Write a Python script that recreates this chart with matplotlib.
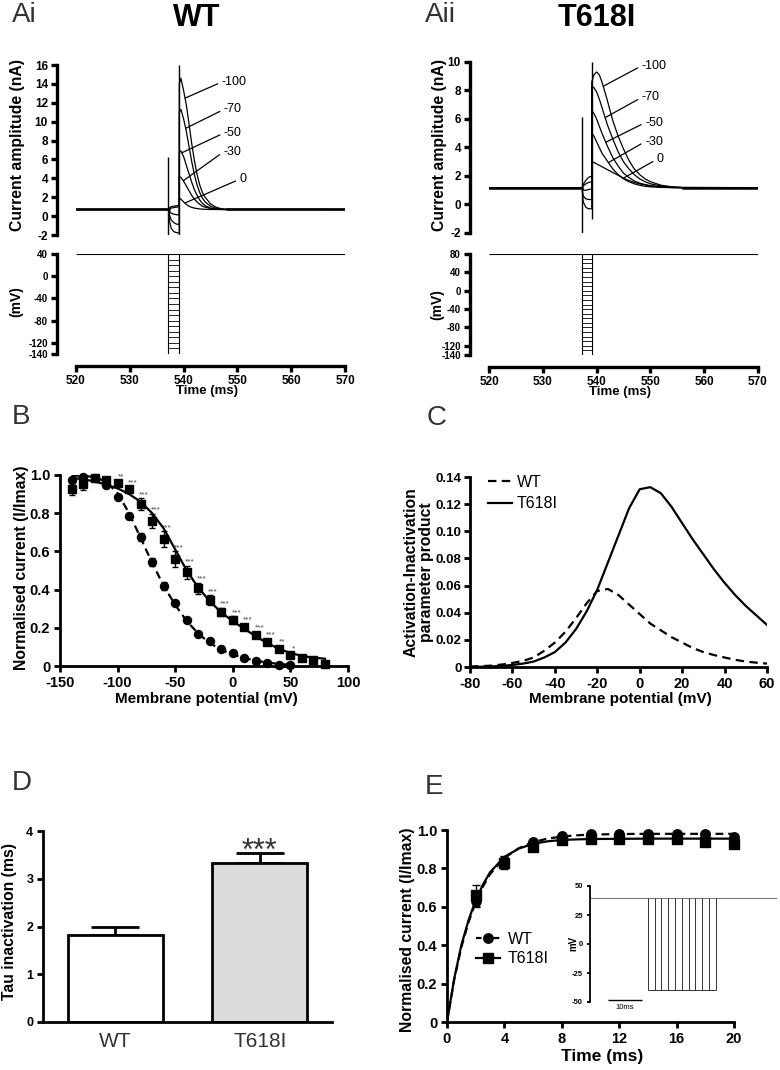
import matplotlib
matplotlib.use('Agg')
import matplotlib.pyplot as plt
from matplotlib.ticker import FuncFormatter
from matplotlib.lines import Line2D

plt.rcParams['font.family'] = ['Liberation Sans', 'DejaVu Sans']
plt.rcParams['font.weight'] = 'bold'
plt.rcParams['axes.unicode_minus'] = False

# ---------------- data ----------------
trace_names = ['-100', '-70', '-50', '-30', '0']

# Ai  WT current traces (nA)
wt_base = 0.7
wt_art_t = [537.16, 539.2]
wt_art_lo = [-2.0, -2.0]
wt_art_hi = [6.3, 16.0]
wt_pre_t = [537.2, 537.4, 537.7, 538.2, 538.7, 539.2]
wt_pre = [[0.7, -0.6, -1.3, -1.65, -1.75, -1.8],
          [0.7, 0.1, -0.4, -0.7, -0.85, -0.9],
          [0.7, 0.5, 0.3, 0.2, 0.15, 0.1],
          [0.7, 0.8, 0.85, 0.9, 0.95, 1.0],
          [0.7, 0.9, 1.0, 1.05, 1.1, 1.1]]
wt_post_t = [539.2, 539.5, 540.0, 540.5, 541.0, 541.5, 542.0, 542.5, 543.0, 543.5, 544.0, 545.0, 546.0, 547.0, 548.0]
wt_post = [[14.0, 14.6, 13.3, 11.8, 9.8, 7.7, 5.9, 4.4, 3.3, 2.5, 2.0, 1.3, 0.95, 0.78, 0.72],
           [11.0, 11.3, 10.3, 9.0, 7.4, 5.8, 4.4, 3.3, 2.5, 1.9, 1.5, 1.05, 0.82, 0.73, 0.7],
           [6.8, 6.9, 6.3, 5.4, 4.5, 3.6, 2.8, 2.2, 1.7, 1.35, 1.1, 0.85, 0.75, 0.71, 0.7],
           [4.2, 4.1, 3.7, 3.2, 2.7, 2.2, 1.8, 1.5, 1.25, 1.05, 0.95, 0.8, 0.73, 0.7, 0.7],
           [1.9, 1.8, 1.5, 1.25, 1.05, 0.93, 0.85, 0.8, 0.76, 0.74, 0.72, 0.7, 0.7, 0.7, 0.7]]
wt_lab_xy = [(540.3, 12.5), (540.4, 9.3), (539.65, 6.7), (539.95, 3.75), (540.3, 1.4)]
wt_lab_txt = [(547.1, 14.2), (547.5, 11.3), (547.5, 8.8), (547.4, 6.8), (550.4, 3.9)]
wt_steps = [-140, -130, -120, -110, -100, -90, -80, -70, -60, -50, -40, -30, -20, -10, 0, 10, 20, 30, 40]
wt_hold = 40

# Aii  T618I current traces (nA)
mut_base = 1.18
mut_art_t = [537.25, 539.15]
mut_art_lo = [-2.0, -1.0]
mut_art_hi = [6.15, 10.0]
mut_pre_t = [537.3, 537.5, 538.0, 538.5, 539.1]
mut_pre = [[1.18, 0.2, -0.2, -0.3, -0.3],
           [1.18, 0.6, 0.4, 0.35, 0.35],
           [1.18, 1.0, 1.0, 1.05, 1.1],
           [1.18, 1.3, 1.45, 1.55, 1.6],
           [1.18, 1.4, 1.7, 1.9, 2.0]]
mut_post_t = [539.1, 539.5, 540.0, 540.5, 541.0, 542.0, 543.0, 544.0, 545.0, 546.0, 547.0, 548.0, 549.0, 550.0, 552.0, 554.0, 556.0]
mut_post = [[8.6, 9.1, 9.3, 9.1, 8.6, 7.3, 5.9, 4.8, 3.9, 3.1, 2.5, 2.1, 1.8, 1.6, 1.35, 1.24, 1.2],
            [8.3, 8.2, 7.9, 7.4, 6.8, 5.6, 4.6, 3.7, 3.0, 2.5, 2.1, 1.8, 1.6, 1.45, 1.3, 1.22, 1.19],
            [6.6, 6.4, 6.0, 5.5, 5.0, 4.1, 3.3, 2.7, 2.2, 1.9, 1.65, 1.5, 1.4, 1.32, 1.24, 1.2, 1.18],
            [5.0, 4.8, 4.4, 4.0, 3.6, 3.05, 2.5, 2.1, 1.8, 1.6, 1.45, 1.35, 1.28, 1.24, 1.2, 1.18, 1.18],
            [3.0, 2.95, 2.85, 2.75, 2.65, 2.45, 2.25, 2.05, 1.85, 1.68, 1.55, 1.45, 1.37, 1.31, 1.23, 1.19, 1.18]]
mut_lab_xy = [(541.25, 8.3), (541.6, 6.1), (541.7, 4.37), (542.2, 2.94), (545.0, 1.85)]
mut_lab_txt = [(548.4, 9.74), (548.4, 7.52), (549.0, 5.74), (549.0, 4.41), (551.2, 3.17)]
mut_steps = [-140, -130, -120, -110, -100, -90, -80, -70, -60, -50, -40, -30, -20, -10, 0,
             10, 20, 30, 40, 50, 60, 70, 80]
mut_hold = 80

# B  steady-state inactivation
b_v = [-140, -130, -120, -110, -100, -90, -80, -70, -60, -50, -40, -30, -20, -10, 0, 10, 20, 30, 40, 50, 60, 70, 80]
b_wt_v = b_v[:20]
b_wt = [0.974, 0.99, 0.985, 0.95, 0.886, 0.785, 0.677, 0.543, 0.42, 0.328, 0.24, 0.17, 0.13, 0.09,
        0.066, 0.044, 0.026, 0.014, 0.005, 0.003]
b_wt_err = [0.01, 0.01, 0.01, 0.01, 0.01, 0.015, 0.02, 0.02, 0.02, 0.01, 0.01, 0.01, 0.01, 0.01,
            0.01, 0.01, 0.01, 0.01, 0.005, 0.005]
b_mut = [0.927, 0.953, 0.983, 0.974, 0.96, 0.925, 0.848, 0.76, 0.665, 0.56, 0.49, 0.407, 0.345,
         0.284, 0.24, 0.206, 0.162, 0.127, 0.09, 0.058, 0.044, 0.03, 0.009]
b_mut_err = [0.03, 0.03, 0.01, 0.01, 0.01, 0.015, 0.03, 0.035, 0.04, 0.04, 0.035, 0.03, 0.025,
             0.02, 0.02, 0.015, 0.015, 0.015, 0.015, 0.01, 0.01, 0.01, 0.01]
b_stars = ['', '', '', '', '**', '***', '***', '***', '***', '***', '***', '***', '***', '***',
           '***', '***', '***', '***', '**', '*', '', '', '']
b_fit_v_wt = [-140, -130, -120, -110, -100, -90, -80, -70, -60, -50, -40, -30, -20, -10, 0, 10, 20, 30, 40, 50]
b_fit_wt = [0.997, 0.995, 0.99, 0.965, 0.905, 0.8, 0.67, 0.54, 0.42, 0.32, 0.235, 0.17, 0.12, 0.085,
            0.06, 0.042, 0.028, 0.018, 0.011, 0.006]
b_fit_mut = [0.985, 0.978, 0.966, 0.95, 0.93, 0.9, 0.86, 0.8, 0.72, 0.61, 0.5, 0.41, 0.34, 0.28,
             0.235, 0.195, 0.155, 0.12, 0.09, 0.068, 0.053, 0.044, 0.038]

# C  activation x inactivation product
c_v = [-80, -75, -70, -65, -60, -55, -50, -45, -40, -35, -30, -25, -20, -15, -10, -5, 0,
       5, 10, 15, 20, 25, 30, 35, 40, 45, 50, 55, 60]
c_wt = [0.0003, 0.0006, 0.001, 0.0018, 0.003, 0.0045, 0.007, 0.012, 0.018, 0.026, 0.036, 0.047,
        0.056, 0.0575, 0.053, 0.046, 0.039, 0.032, 0.027, 0.022, 0.018, 0.014, 0.011, 0.0088,
        0.007, 0.0053, 0.004, 0.0032, 0.0025]
c_mut = [0.0001, 0.0002, 0.0004, 0.0008, 0.0015, 0.0025, 0.004, 0.007, 0.011, 0.018, 0.028, 0.041,
         0.057, 0.077, 0.097, 0.117, 0.131, 0.1325, 0.128, 0.118, 0.106, 0.094, 0.083, 0.072,
         0.062, 0.053, 0.045, 0.038, 0.031]

# D  tau of inactivation
d_groups = ['WT', 'T618I']
d_tau = [1.82, 3.32]
d_err = [0.16, 0.22]
d_colors = ['white', '#dcdcdc']

# E  recovery from inactivation
e_t = [2, 4, 6, 8, 10, 12, 14, 16, 18, 20]
e_wt = [0.63, 0.84, 0.935, 0.97, 0.978, 0.98, 0.98, 0.98, 0.98, 0.965]
e_wt_err = [0.03, 0.02, 0.01, 0.01, 0.01, 0.01, 0.01, 0.01, 0.01, 0.01]
e_mut = [0.66, 0.83, 0.91, 0.95, 0.955, 0.955, 0.955, 0.955, 0.94, 0.927]
e_mut_err = [0.055, 0.035, 0.02, 0.01, 0.01, 0.01, 0.01, 0.01, 0.01, 0.01]
e_fit_t = [0, 0.5, 1, 1.5, 2, 2.5, 3, 4, 5, 6, 7, 8, 9, 10, 12, 14, 16, 18, 20]
e_fit_wt = [0, 0.22, 0.39, 0.52, 0.625, 0.705, 0.77, 0.855, 0.905, 0.937, 0.955, 0.966, 0.972,
            0.976, 0.979, 0.98, 0.98, 0.98, 0.98]
e_fit_mut = [0, 0.225, 0.40, 0.53, 0.635, 0.715, 0.78, 0.86, 0.903, 0.928, 0.941, 0.948, 0.951,
             0.953, 0.954, 0.955, 0.955, 0.955, 0.955]
# inset protocol (ms, mV)
ins_hold = 40
ins_step = -40
ins_start = 17
ins_returns = [19, 21, 23, 25, 27, 29, 31, 33, 35, 37]
ins_end = 55

# ---------------- figure ----------------
W, H = 780, 1070
fig = plt.figure(figsize=(W / 100, H / 100), dpi=100)


def axes_px(x0, y0, x1, y1):
    return fig.add_axes([x0 / W, 1 - y1 / H, (x1 - x0) / W, (y1 - y0) / H])


def style(ax, lw=2.0, fs=10.5, tl=4.5):
    for s in ['top', 'right']:
        ax.spines[s].set_visible(False)
    for s in ['left', 'bottom']:
        ax.spines[s].set_linewidth(lw)
    ax.tick_params(direction='out', length=tl, width=lw, labelsize=fs, pad=2.5)


def ylab(ax, text, x_px, y_px, fs=11.3):
    ax.set_ylabel(text, fontsize=fs, fontweight='bold', linespacing=1.05)
    ax.yaxis.set_label_coords(x_px / W, 1 - y_px / H, transform=fig.transFigure)


def xlab(ax, text, x_px, y_px, fs=11):
    ax.set_xlabel(text, fontsize=fs, fontweight='bold')
    ax.xaxis.set_label_coords(x_px / W, 1 - y_px / H, transform=fig.transFigure)


def letter(x, y, s):
    fig.text(x / W, 1 - y / H, s, fontsize=20, color='#333333', fontweight='normal', va='center')


def current_panel(ax, base, art_t, art_lo, art_hi, pre_t, pre, post_t, post, lab_xy, lab_txt):
    for p, q in zip(pre, post):
        ts = [520] + pre_t + post_t + [570]
        vs = [base] + p + q + [base]
        ax.plot(ts, vs, color='k', lw=0.9)
    ax.plot([520, pre_t[0]], [base, base], color='k', lw=1.8)
    ax.plot([post_t[-1], 570], [base, base], color='k', lw=1.8)
    ax.vlines(art_t, art_lo, art_hi, color='k', lw=1.0)
    for name, xy, txy in zip(trace_names, lab_xy, lab_txt):
        ax.annotate(name, xy=xy, xytext=txy, fontsize=9, fontweight='normal', va='center', ha='left',
                    arrowprops=dict(arrowstyle='-', lw=0.9, color='k', shrinkA=1, shrinkB=0, relpos=(0, 0.5)))


def voltage_panel(ax, steps, hold, t0, t1):
    ax.hlines(hold, 520, 570, color='k', lw=0.8)
    ax.hlines(steps, t0, t1, color='k', lw=0.6)
    ax.vlines([t0, t1], steps[0], hold, color='k', lw=0.8)


# ---- Ai ----
letter(12, 15, 'Ai')
fig.text(197 / W, 1 - 18 / H, 'WT', ha='center', va='center', fontsize=22, fontweight='bold')
axAi = axes_px(76, 65, 345, 235)
current_panel(axAi, wt_base, wt_art_t, wt_art_lo, wt_art_hi, wt_pre_t, wt_pre, wt_post_t, wt_post,
              wt_lab_xy, wt_lab_txt)
style(axAi, lw=2.4, fs=8.5, tl=4)
axAi.spines['bottom'].set_visible(False)
axAi.spines['left'].set_position(('outward', 13.7))
axAi.set_xlim(520, 570)
axAi.set_ylim(-2, 16)
axAi.set_yticks(range(-2, 17, 2))
axAi.set_xticks([])
ylab(axAi, 'Current amplitude (nA)', 25, 145)

axAiv = axes_px(76, 254, 345, 354)
voltage_panel(axAiv, wt_steps, wt_hold, 537.16, 539.2)
style(axAiv, lw=2.4, fs=7, tl=4)
axAiv.spines['left'].set_position(('outward', 13.7))
axAiv.spines['bottom'].set_position(('outward', 8.6))
axAiv.set_xlim(520, 570)
axAiv.set_ylim(-140, 40)
axAiv.set_yticks([40, 0, -40, -80, -120, -140])
axAiv.set_xticks(range(520, 571, 10))
axAiv.tick_params(axis='x', labelsize=8.5)
ylab(axAiv, '(mV)', 23, 302, fs=10)
xlab(axAiv, 'Time (ms)', 207, 385, fs=9.5)

# ---- Aii ----
letter(425, 15, 'Aii')
fig.text(597 / W, 1 - 18 / H, 'T618I', ha='center', va='center', fontsize=22, fontweight='bold')
axAii = axes_px(489, 62, 758, 233)
current_panel(axAii, mut_base, mut_art_t, mut_art_lo, mut_art_hi, mut_pre_t, mut_pre, mut_post_t,
              mut_post, mut_lab_xy, mut_lab_txt)
style(axAii, lw=2.4, fs=8.5, tl=4)
axAii.spines['bottom'].set_visible(False)
axAii.spines['left'].set_position(('outward', 13.7))
axAii.set_xlim(520, 570)
axAii.set_ylim(-2, 10)
axAii.set_yticks(range(-2, 11, 2))
axAii.set_xticks([])
ylab(axAii, 'Current amplitude (nA)', 447, 145)

axAiiv = axes_px(489, 254, 758, 355)
voltage_panel(axAiiv, mut_steps, mut_hold, 537.25, 539.15)
style(axAiiv, lw=2.4, fs=7, tl=4)
axAiiv.spines['left'].set_position(('outward', 13.7))
axAiiv.spines['bottom'].set_position(('outward', 8.6))
axAiiv.set_xlim(520, 570)
axAiiv.set_ylim(-140, 80)
axAiiv.set_yticks([80, 40, 0, -40, -80, -120, -140])
axAiiv.set_xticks(range(520, 571, 10))
axAiiv.tick_params(axis='x', labelsize=8.5)
ylab(axAiiv, '(mV)', 444, 305, fs=10)
xlab(axAiiv, 'Time (ms)', 620, 386, fs=9.5)

# ---- B ----
letter(12, 417, 'B')
axB = axes_px(60, 475, 348, 666)
axB.plot(b_fit_v_wt, b_fit_wt, color='k', ls='--', dashes=(3.5, 2.2), lw=1.6)
axB.plot(b_v, b_fit_mut, color='k', ls='-', lw=1.6)
axB.errorbar(b_wt_v, b_wt, yerr=b_wt_err, fmt='o', color='k', ms=5.8, capsize=2.5,
             elinewidth=1, capthick=1, clip_on=False)
axB.errorbar(b_v, b_mut, yerr=b_mut_err, fmt='s', color='k', ms=6.2, capsize=2.5,
             elinewidth=1, capthick=1, clip_on=False)
for v, y, e, s in zip(b_v, b_mut, b_mut_err, b_stars):
    if s:
        axB.text(v + 3, y + e + 0.02, s, fontsize=6, color='#444444', fontweight='normal',
                 ha='center', va='center')
style(axB)
axB.set_xlim(-150, 100)
axB.set_ylim(0, 1.0)
axB.set_xticks(range(-150, 101, 50))
axB.set_yticks([0, 0.2, 0.4, 0.6, 0.8, 1.0])
axB.yaxis.set_major_formatter(FuncFormatter(lambda v, p: '0' if v == 0 else f'{v:.1f}'))
ylab(axB, 'Normalised current (I/Imax)', 29, 568)
xlab(axB, 'Membrane potential (mV)', 206, 692)

# ---- C ----
letter(427, 418, 'C')
axC = axes_px(470, 477, 767, 667)
axC.plot(c_v, c_wt, color='k', ls='--', dashes=(3.8, 2.4), lw=1.6, label='WT')
axC.plot(c_v, c_mut, color='k', ls='-', lw=1.6, label='T618I')
style(axC)
axC.tick_params(axis='y', labelsize=9.5, pad=1.5)
axC.set_xlim(-80, 60)
axC.set_ylim(0, 0.14)
axC.set_xticks(range(-80, 61, 20))
axC.set_yticks([0, 0.02, 0.04, 0.06, 0.08, 0.10, 0.12, 0.14])
axC.yaxis.set_major_formatter(FuncFormatter(lambda v, p: '0' if v == 0 else f'{v:.2f}'))
ylab(axC, 'Activation-Inactivation\nparameter product', 434, 572)
xlab(axC, 'Membrane potential (mV)', 620, 692)
axC.legend(loc='upper left', bbox_to_anchor=(488 / W, 1 - 475 / H), bbox_transform=fig.transFigure,
           frameon=False, prop={'size': 11.5, 'weight': 'normal'}, handlelength=1.5,
           handletextpad=0.3, labelspacing=0.4, borderpad=0, borderaxespad=0)

# ---- D ----
letter(12, 783, 'D')
axD = axes_px(43, 831, 332, 1022)
axD.bar([0, 1], d_tau, width=0.66, color=d_colors, edgecolor='k', linewidth=2, zorder=2)
axD.errorbar([0, 1], d_tau, yerr=[[0, 0], d_err], fmt='none', ecolor='k', elinewidth=2,
             capsize=17, capthick=2, zorder=1)
axD.text(1, 3.39, '***', fontsize=22, color='#333333', fontweight='normal', ha='center', va='baseline')
style(axD, fs=9)
axD.set_xlim(-0.5, 1.5)
axD.set_ylim(0, 4)
axD.set_yticks(range(0, 5))
axD.set_xticks([0, 1])
axD.set_xticklabels(d_groups, fontsize=15, fontweight='normal', color='#333333')
axD.tick_params(axis='x', length=0, pad=7)
ylab(axD, 'Tau inactivation (ms)', 17, 922)

# ---- E ----
letter(425, 787, 'E')
axE = axes_px(447, 830, 734, 1022)
axE.plot(e_fit_t, e_fit_wt, color='k', ls='--', dashes=(3.5, 2.2), lw=1.6)
axE.plot(e_fit_t, e_fit_mut, color='k', ls='-', lw=1.6)
axE.errorbar(e_t, e_mut, yerr=e_mut_err, fmt='s', color='k', ms=6.8, capsize=3,
             elinewidth=1, capthick=1, clip_on=False)
axE.errorbar(e_t, e_wt, yerr=e_wt_err, fmt='o', color='k', ms=6.8, capsize=3,
             elinewidth=1, capthick=1, clip_on=False)
style(axE)
axE.set_xlim(0, 20)
axE.set_ylim(0, 1.0)
axE.set_xticks(range(0, 21, 4))
axE.set_yticks([0, 0.2, 0.4, 0.6, 0.8, 1.0])
axE.yaxis.set_major_formatter(FuncFormatter(lambda v, p: '0' if v == 0 else f'{v:.1f}'))
ylab(axE, 'Normalised current (I/Imax)', 415, 930)
xlab(axE, 'Time (ms)', 602, 1049, fs=12.5)
handles = [Line2D([], [], color='k', ls='--', dashes=(2.5, 1.5), lw=1.6, marker='o', ms=6.8),
           Line2D([], [], color='k', ls='-', lw=1.6, marker='s', ms=6.8)]
axE.legend(handles, ['WT', 'T618I'], loc='center left', bbox_to_anchor=(476 / W, 1 - 949 / H),
           bbox_transform=fig.transFigure, frameon=False, prop={'size': 11.5, 'weight': 'normal'},
           handlelength=1.5, handletextpad=0.5, labelspacing=0.3, borderpad=0, borderaxespad=0)

# inset protocol
axI = axes_px(590, 886, 777, 1002)
axI.hlines(ins_hold, 0, ins_end, color='#777777', lw=0.8)
axI.vlines([ins_start] + ins_returns, ins_step, ins_hold, color='#333333', lw=0.7)
axI.hlines(ins_step, ins_start, ins_returns[-1], color='#333333', lw=0.7)
axI.hlines(-48, 5.3, 15.3, color='k', lw=1.0, clip_on=False)
axI.text(10.3, -52, '10ms', fontsize=5.5, fontweight='normal', ha='center', va='top', clip_on=False)
axI.set_xlim(0, ins_end)
axI.set_ylim(-50, 50)
axI.patch.set_alpha(0)
style(axI, lw=1.3, fs=5.5, tl=2.5)
axI.spines['bottom'].set_visible(False)
axI.set_xticks([])
axI.set_yticks([-50, -25, 0, 25, 50])
ylab(axI, 'mV', 578, 943, fs=7)

fig.savefig('out.png', dpi=100)
